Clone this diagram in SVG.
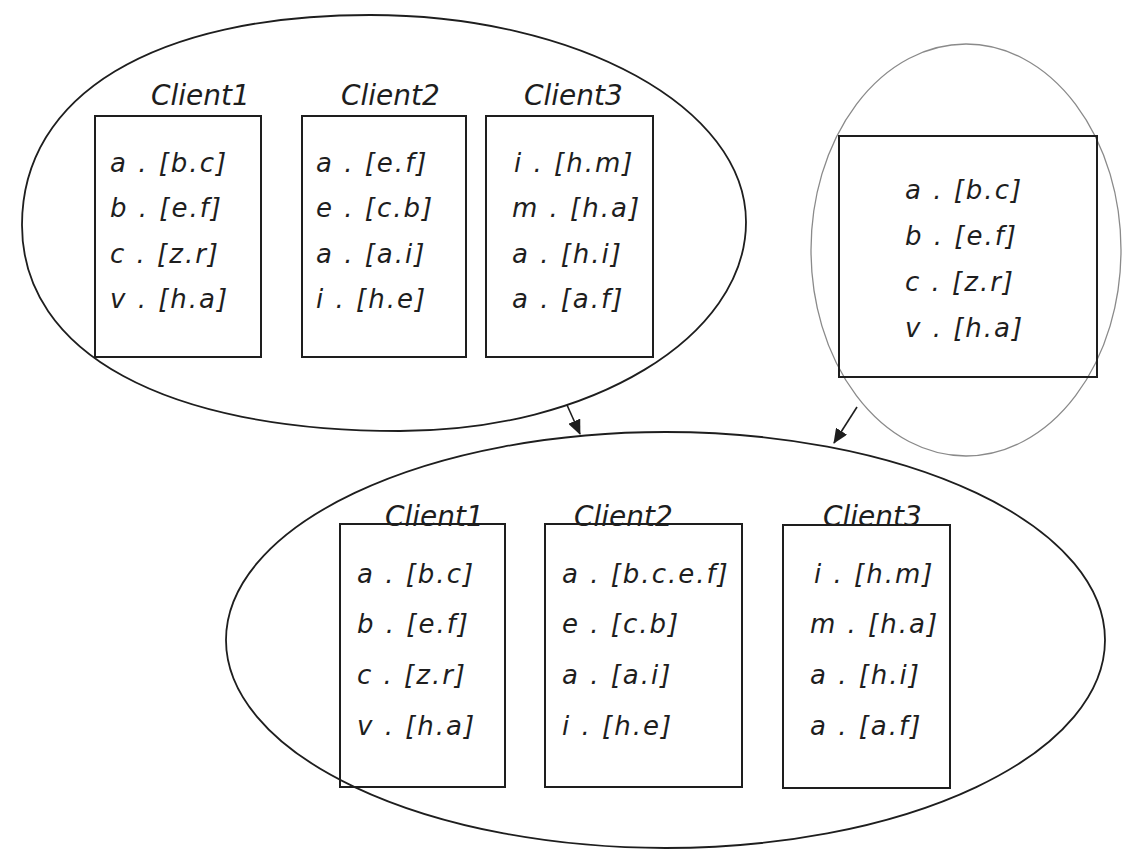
<svg xmlns="http://www.w3.org/2000/svg" width="1124" height="850" viewBox="0 0 1124 850">
<style>
.bg{fill:#ffffff}
.ell{fill:none;stroke:#1e1e1e;stroke-width:1.8}
.ell2{fill:none;stroke:#8a8a8a;stroke-width:1.3}
.box{fill:none;stroke:#1e1e1e;stroke-width:2}
.lbl{font-family:"DejaVu Sans",sans-serif;font-style:italic;font-size:28px;fill:#1e1e1e}
.row{font-family:"DejaVu Sans",sans-serif;font-style:italic;font-size:26px;letter-spacing:2px;fill:#1e1e1e}
.conn{fill:none;stroke:#1e1e1e;stroke-width:1.6}
</style>
<defs>
<marker id="ah" markerWidth="15" markerHeight="13" refX="14" refY="6.5" orient="auto" markerUnits="userSpaceOnUse" viewBox="0 0 15 13">
<path d="M0,0 L15,6.5 L0,13 Z" fill="#1e1e1e"/>
</marker>
</defs>
<rect class="bg" x="0" y="0" width="1124" height="850"/>

<g id="group-top">
<path class="ell" d="M370,15 C578,15 746,108 746,222 C746,337 591,431 400,431 C166,431 22,353 22,225 C22,95 154,15 370,15 Z"/>
</g>
<g id="group-right">
<ellipse class="ell2" cx="966" cy="250" rx="155" ry="206"/>
</g>
<g id="group-bottom">
<ellipse class="ell" cx="665.5" cy="640" rx="439.5" ry="208"/>
</g>

<g id="top-client1">
<text class="lbl" x="151" y="105">Client1</text>
<rect class="box" x="95" y="116" width="166" height="241"/>
<text class="row" x="110" y="172">a . [b.c]</text>
<text class="row" x="110" y="217">b . [e.f]</text>
<text class="row" x="110" y="263">c . [z.r]</text>
<text class="row" x="110" y="308">v . [h.a]</text>
</g>
<g id="top-client2">
<text class="lbl" x="341" y="105">Client2</text>
<rect class="box" x="302" y="116" width="164" height="241"/>
<text class="row" x="316" y="172">a . [e.f]</text>
<text class="row" x="316" y="217">e . [c.b]</text>
<text class="row" x="316" y="263">a . [a.i]</text>
<text class="row" x="316" y="308">i . [h.e]</text>
</g>
<g id="top-client3">
<text class="lbl" x="524" y="105">Client3</text>
<rect class="box" x="486" y="116" width="167" height="241"/>
<text class="row" x="514" y="172">i . [h.m]</text>
<text class="row" x="512" y="217">m . [h.a]</text>
<text class="row" x="512" y="263">a . [h.i]</text>
<text class="row" x="512" y="308">a . [a.f]</text>
</g>

<g id="right-server">
<rect class="box" x="839" y="136" width="258" height="241"/>
<text class="row" x="905" y="199">a . [b.c]</text>
<text class="row" x="905" y="245">b . [e.f]</text>
<text class="row" x="905" y="291">c . [z.r]</text>
<text class="row" x="905" y="337">v . [h.a]</text>
</g>

<g id="bottom-client1">
<rect class="box" x="340" y="524" width="165" height="263"/>
<text class="lbl" x="385" y="526">Client1</text>
<text class="row" x="357" y="583">a . [b.c]</text>
<text class="row" x="357" y="633">b . [e.f]</text>
<text class="row" x="357" y="684">c . [z.r]</text>
<text class="row" x="357" y="735">v . [h.a]</text>
</g>
<g id="bottom-client2">
<rect class="box" x="545" y="524" width="197" height="263"/>
<text class="lbl" x="574" y="526">Client2</text>
<text class="row" x="562" y="583">a . [b.c.e.f]</text>
<text class="row" x="562" y="633">e . [c.b]</text>
<text class="row" x="562" y="684">a . [a.i]</text>
<text class="row" x="562" y="735">i . [h.e]</text>
</g>
<g id="bottom-client3">
<rect class="box" x="783" y="525" width="167" height="263"/>
<text class="lbl" x="823" y="526">Client3</text>
<text class="row" x="814" y="583">i . [h.m]</text>
<text class="row" x="810" y="633">m . [h.a]</text>
<text class="row" x="810" y="684">a . [h.i]</text>
<text class="row" x="810" y="735">a . [a.f]</text>
</g>

<g id="connectors">
<line class="conn" x1="567" y1="405" x2="580" y2="434" marker-end="url(#ah)"/>
<line class="conn" x1="857" y1="407" x2="834" y2="443" marker-end="url(#ah)"/>
</g>
</svg>
